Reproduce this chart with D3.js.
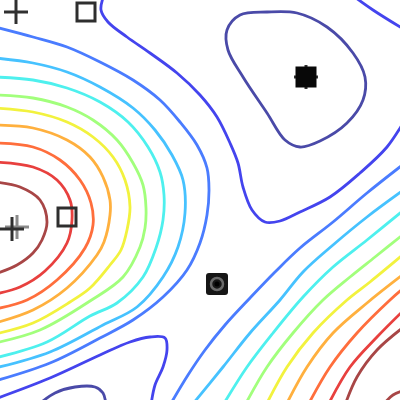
<!DOCTYPE html>
<html>
<head>
<meta charset="utf-8">
<script src="https://cdn.jsdelivr.net/npm/d3@7"></script>
<style>
  * { margin: 0; padding: 0; }
  body { background: #fff; }
  svg { display: block; }
</style>
</head>
<body>
<svg id="chart" width="400" height="400"></svg>
<script>
// contour levels, low -> high
var levelColors = ["#4a4aa8", "#4444ee", "#4a7cff", "#46c2ff", "#4ef0ee", "#a2ff7c",
                   "#f2f23e", "#ffb03e", "#ff6e3c", "#e8403e", "#a84646", "#a84646"];

// contour traces (x, y in plot units)
var loopMin = [[56.75,92.5],[60,96.25],[66.75,97],[74.25,96.75],[81.75,93.25],[88.25,86.75],
  [91.25,80.75],[90.75,75],[86.75,69.25],[80,64.75],[75,63.25],[71.25,65],[66.75,71.75],[60.75,80.75],[57,87.5]];
var arcLow = [[9.5,-1.25],[13.75,1.75],[18.75,3.25],[23.75,3.25],[25.75,1.75],[26.5,-1.25]];
var valley = [[26,101.25],[25.25,97.5],[27,94.5],[31.75,90.75],[37.5,86.75],[44.25,81.75],[50,76.25],
  [54.25,70.75],[57.5,64.25],[59.5,59.25],[60.75,53.25],[63,47.5],[66.25,44.5],[70,44.75],[75,47],
  [82.5,50.75],[90,56.75],[96.75,63.25],[101.25,70]];
var cornerTR = [[88,101.25],[93.25,97.5],[101.25,92.5]];
var basinLow = [[-1.25,0.25],[12.5,5.5],[25,11.25],[32.5,14.5],[37.5,15.75],[41.25,15.5],[41.75,12.5],
  [40.75,8.25],[38.75,3.75],[37.75,-1.25]];

var left2 = [[-1.25,93.25],[8.25,90.75],[16.75,88.25],[25,84.5],[33.25,80],[40,75],[45,69.5],[49.25,63.75],
  [51.75,58],[52.25,52.5],[51.75,46.25],[50,39.25],[46.75,32.5],[40.75,25.75],[33.25,20],[25,15.5],[12.5,9.25],[-1.25,4.75]];
var left3 = [[-1.25,85.5],[8.25,84.25],[16.75,82],[25,78.25],[33.25,73],[38.75,67.5],[43,61.25],[45.75,55],
  [46.25,46.75],[44.5,38.25],[40.75,30.75],[34.25,23.25],[25.75,18.75],[12.5,12],[-1.25,8]];
var left4 = [[-1.25,80.75],[8.25,80],[16.75,78],[25,74.5],[32,69.5],[37,63.25],[40,57],[41,51.25],
  [40.75,45],[39,38],[35.75,30.75],[29.25,24.25],[22.5,21],[11.75,14.5],[-1.25,10.5]];
var left5 = [[-1.25,76.25],[8.25,75.5],[16.75,73.25],[23.25,70],[29.25,65],[33.25,59.25],[35.75,53.75],
  [36.5,48],[36.25,43],[35,38.25],[30.75,30.75],[22.5,24.75],[10,17.5],[-1.25,14.25]];
var left6 = [[-1.25,73],[8.25,72],[16.75,69.5],[23.25,65.75],[28.25,60.75],[31.25,55],[32.5,48.25],
  [31.75,42.5],[30.25,37.5],[27.5,33.75],[22.5,28],[17.5,24.5],[8.25,19.25],[-1.25,16.5]];
var left7 = [[-1.25,68.75],[8.25,68],[16.75,65],[22.5,60.75],[25.75,55.75],[27.5,50],[27.5,46.25],
  [26,39.5],[24.25,36.25],[16.75,28],[8.25,22.5],[-1.25,19.25]];
var left8 = [[-1.25,64.25],[8.25,63.25],[15,60],[20,55],[22.75,49.25],[23.25,43.75],[21.25,38],
  [14.25,30],[6.75,25],[-1.25,22.75]];
var left9 = [[-1.25,59.5],[8.25,58.25],[14.25,55],[17.5,50],[18,45],[16.75,39.25],[11.25,32.25],[5,28.25],[-1.25,26.5]];
var left10 = [[-1.25,54.5],[5,53.25],[10,50],[11.75,44.5],[10.5,40],[8.25,36.75],[4.25,33.75],[-1.25,31.5]];

var right2 = [[101.25,59.25],[91.75,51.75],[83.25,44.5],[75,38],[68.75,32],[62.5,25.5],[56.25,18.75],[51.25,12.5],[47,6.25],[42.5,-1.25]];
var right3 = [[101.25,52.75],[91.75,45.75],[83.25,38.75],[75.75,32],[70,25],[62.5,16.75],[55.75,8.25],[48,-1.25]];
var right4 = [[101.25,47.75],[91.75,40],[83.25,33.25],[75.75,25.75],[68.25,16.75],[61.75,8.25],[55.75,-1.25]];
var right5 = [[101.25,41.75],[93.75,35.75],[87.5,30.75],[80.75,25],[73.25,16.75],[66.75,8.25],[61.25,-1.25]];
var right6 = [[101.25,36.75],[92.5,29.5],[86.75,25],[78.25,16.75],[71.75,8.25],[66.5,-1.25]];
var right7 = [[101.25,31.75],[91.75,24.25],[83.25,16.75],[76.75,8.25],[71.5,-1.25]];
var right8 = [[101.25,28.25],[97.5,25],[89.25,16.75],[82.5,8.25],[77,-1.25]];
var right9 = [[101.25,22.75],[94.25,15.75],[87.5,8.25],[82,-1.25]];
var right10 = [[101.25,18.5],[94.25,12.5],[89.25,5.75],[86.25,-1.25]];
var right11 = [[95.75,-1.25],[98.25,1.25],[101.25,2.5]];

var contourList = [
  { level: 0, closed: true, pts: loopMin },
  { level: 0, pts: arcLow },
  { level: 1, pts: valley },
  { level: 1, pts: cornerTR },
  { level: 1, pts: basinLow },
  { level: 2, pts: left2 }, { level: 3, pts: left3 }, { level: 4, pts: left4 },
  { level: 5, pts: left5 }, { level: 6, pts: left6 }, { level: 7, pts: left7 },
  { level: 8, pts: left8 }, { level: 9, pts: left9 }, { level: 10, pts: left10 },
  { level: 2, pts: right2 }, { level: 3, pts: right3 }, { level: 4, pts: right4 },
  { level: 5, pts: right5 }, { level: 6, pts: right6 }, { level: 7, pts: right7 },
  { level: 8, pts: right8 }, { level: 9, pts: right9 }, { level: 10, pts: right10 },
  { level: 11, pts: right11 }
];

// markers
var plusPts = [[4, 97], [3, 42.75], [76.5, 80.75]];
var plusGreyPts = [[4.25, 43.25]];
var openSquarePts = [[21.5, 97], [16.75, 45.75]];
var filledSquarePts = [[76.5, 80.75]];
var circlePts = [[54.25, 29]];

var width = 400, height = 400;
var svg = d3.select("#chart");

var x = d3.scaleLinear().domain([0, 100]).range([0, width]);
var y = d3.scaleLinear().domain([0, 100]).range([height, 0]);

svg.append("defs").append("clipPath").attr("id", "clip")
  .append("rect").attr("width", width).attr("height", height);

var g = svg.append("g").attr("clip-path", "url(#clip)");

var openLine = d3.line()
  .x(function (d) { return x(d[0]); })
  .y(function (d) { return y(d[1]); })
  .curve(d3.curveCatmullRom.alpha(0.5));
var closedLine = d3.line()
  .x(function (d) { return x(d[0]); })
  .y(function (d) { return y(d[1]); })
  .curve(d3.curveCatmullRomClosed.alpha(0.5));

g.selectAll("path.contour")
  .data(contourList)
  .enter()
  .append("path")
  .attr("class", "contour")
  .attr("d", function (d) { return d.closed ? closedLine(d.pts) : openLine(d.pts); })
  .attr("fill", "none")
  .attr("stroke", function (d) { return levelColors[d.level]; })
  .attr("stroke-width", 2.8)
  .attr("stroke-linejoin", "round");

function drawPlus(sel, pts, color) {
  var p = sel.selectAll(null)
    .data(pts)
    .enter()
    .append("g")
    .attr("transform", function (d) { return "translate(" + x(d[0]) + "," + y(d[1]) + ")"; });
  p.append("line").attr("x1", -12).attr("x2", 12).attr("y1", 0).attr("y2", 0)
    .attr("stroke", color).attr("stroke-width", 3);
  p.append("line").attr("x1", 0).attr("x2", 0).attr("y1", -12).attr("y2", 12)
    .attr("stroke", color).attr("stroke-width", 3);
}
drawPlus(g, plusGreyPts, "#8a8a8a");
drawPlus(g, plusPts, "#303030");

// open squares
g.selectAll("rect.osq")
  .data(openSquarePts)
  .enter()
  .append("rect")
  .attr("class", "osq")
  .attr("x", function (d) { return x(d[0]) - 9; })
  .attr("y", function (d) { return y(d[1]) - 9; })
  .attr("width", 18).attr("height", 18)
  .attr("fill", "none")
  .attr("stroke", "#2e2e2e")
  .attr("stroke-width", 3);

// filled square (drawn over its plus, only the tips show)
g.selectAll("rect.fsq")
  .data(filledSquarePts)
  .enter()
  .append("rect")
  .attr("class", "fsq")
  .attr("x", function (d) { return x(d[0]) - 10.5; })
  .attr("y", function (d) { return y(d[1]) - 10.5; })
  .attr("width", 21).attr("height", 21)
  .attr("fill", "#080808");

// circle marker: dark block with grey ring
var circ = g.selectAll("g.circ")
  .data(circlePts)
  .enter()
  .append("g")
  .attr("class", "circ")
  .attr("transform", function (d) { return "translate(" + x(d[0]) + "," + y(d[1]) + ")"; });
circ.append("rect")
  .attr("x", -11).attr("y", -11).attr("width", 22).attr("height", 22)
  .attr("rx", 3).attr("fill", "#161616");
circ.append("circle").attr("r", 6)
  .attr("fill", "none").attr("stroke", "#6a6a6a").attr("stroke-width", 2.5);
circ.append("circle").attr("r", 2.5).attr("fill", "#000");
</script>
</body>
</html>
